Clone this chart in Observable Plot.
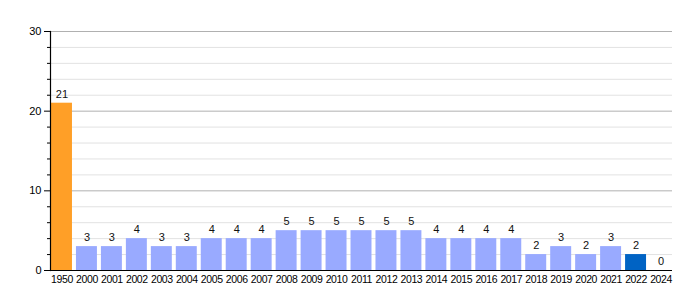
<!DOCTYPE html>
<html>
<head>
<meta charset="utf-8">
<script src="https://cdn.jsdelivr.net/npm/d3@7"></script>
<script src="https://cdn.jsdelivr.net/npm/@observablehq/plot@0.6"></script>
<style>
  html, body { margin: 0; padding: 0; background: #fff; }
  #chart svg { display: block; }
  #chart svg g[aria-label="x-axis tick label"] text { letter-spacing: -0.4px; }
</style>
</head>
<body>
<div id="chart"></div>
<script>
const years = ["1950","2000","2001","2002","2003","2004","2005","2006","2007","2008","2009","2010","2011","2012","2013","2014","2015","2016","2017","2018","2019","2020","2021","2022","2024"];
const counts = [21,3,3,4,3,3,4,4,4,5,5,5,5,5,5,4,4,4,4,2,3,2,3,2,0];
const highlight = {"1950": "#FF9F27", "2022": "#0063C4"};
const baseColor = "#99AAFF";
const majorTicks = [0,10,20,30];
const minorTicks = [2,4,6,8,12,14,16,18,22,24,26,28];

const data = years.map((y, i) => ({year: y, count: counts[i], color: highlight[y] || baseColor}));

const font = "'Liberation Sans', Arial, sans-serif";

const chart = Plot.plot({
  width: 700,
  height: 300,
  marginLeft: 50,
  marginRight: 28,
  marginTop: 31,
  marginBottom: 30,
  style: {fontFamily: font, fontSize: "11px", color: "#000", background: "#fff"},
  x: {type: "band", domain: years, paddingInner: 0.16, paddingOuter: 0.04, align: 0.5, round: false, label: null},
  y: {domain: [0, 30], label: null},
  marks: [
    Plot.ruleY(minorTicks, {stroke: "#e2e2e2", strokeWidth: 1}),
    Plot.ruleY(majorTicks, {stroke: "#b0b0b0", strokeWidth: 1}),
    Plot.barY(data, {x: "year", y: "count", fill: "color"}),
    Plot.text(data, {x: "year", y: "count", text: d => String(d.count), dy: -9, fill: "#111", fontSize: 11}),
    Plot.axisY(minorTicks, {tickSize: 3, tickFormat: () => "", stroke: "#000"}),
    Plot.axisY(majorTicks, {tickSize: 6, tickPadding: 3, fontSize: 11, fill: "#000", stroke: "#000"}),
    Plot.axisX({tickSize: 0, tickPadding: 5, fontSize: 10.5, fill: "#000"}),
    Plot.ruleY([0], {stroke: "#000", strokeWidth: 1.2}),
    Plot.frame({anchor: "left", stroke: "#000", strokeWidth: 1.2})
  ]
});
document.getElementById("chart").appendChild(chart);
</script>
</body>
</html>
